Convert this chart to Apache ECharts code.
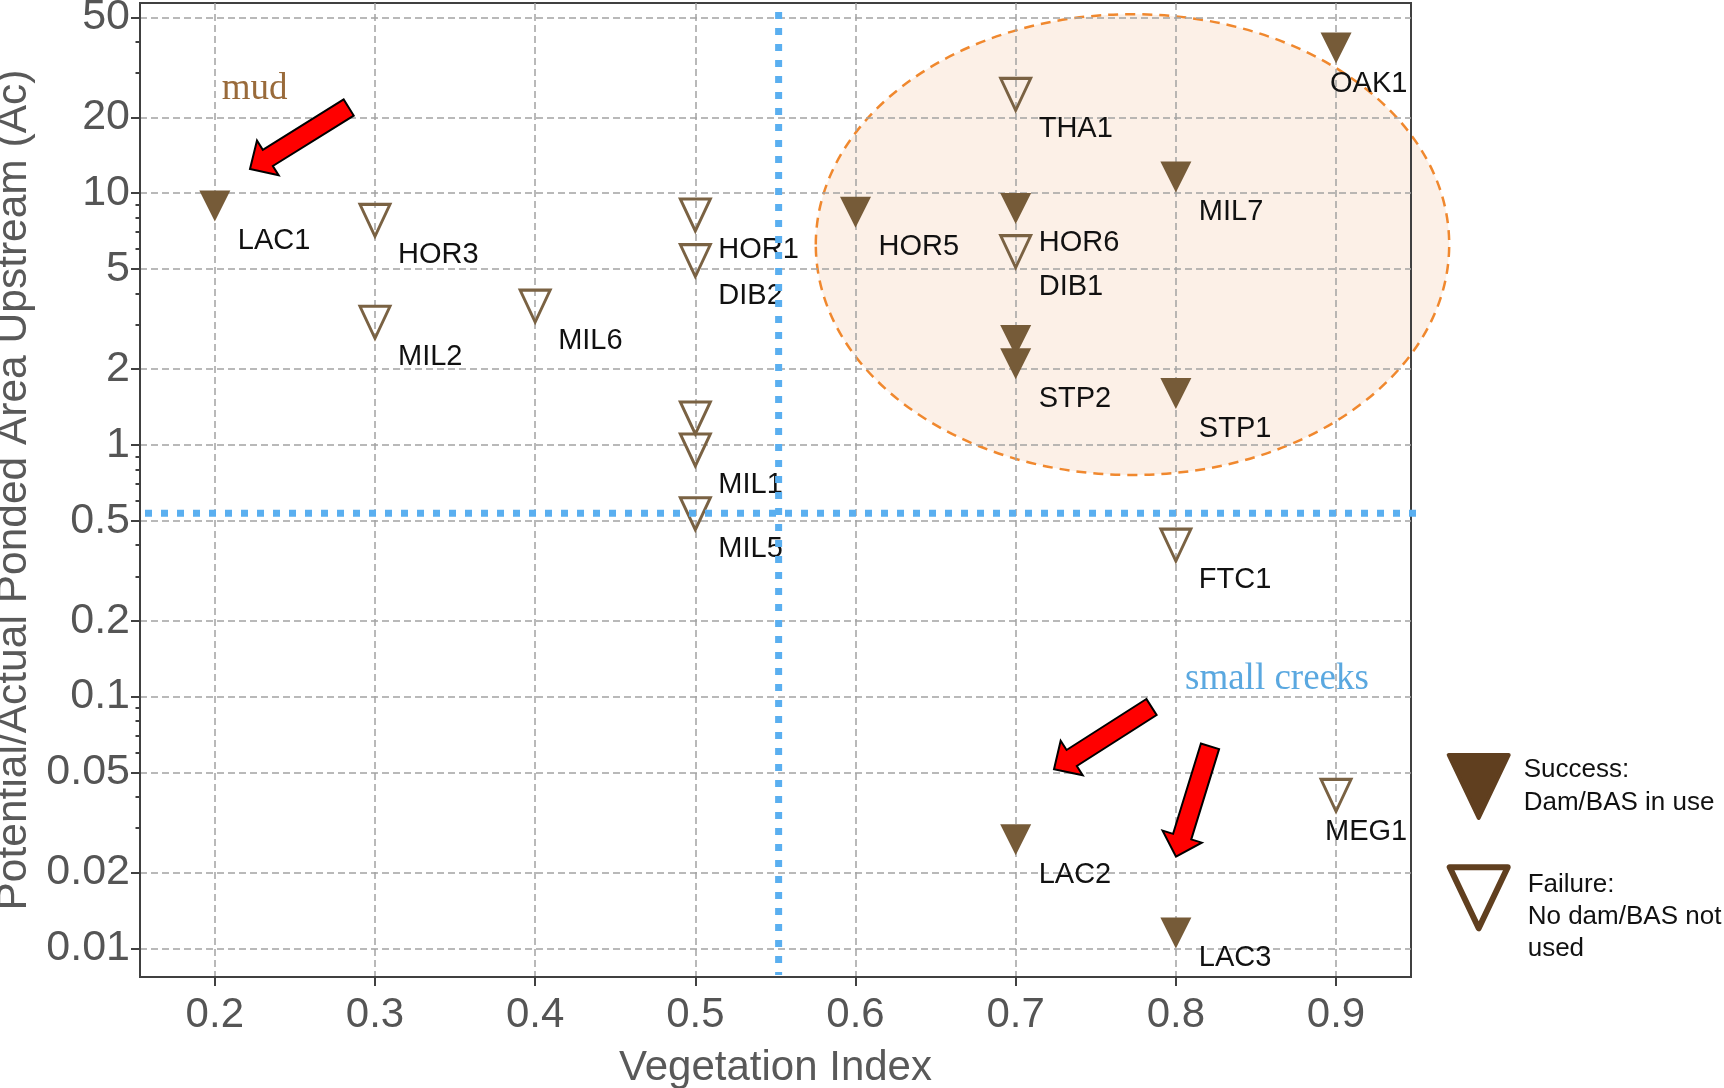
<!DOCTYPE html>
<html><head><meta charset="utf-8">
<script src="https://cdn.jsdelivr.net/npm/echarts@6/dist/echarts.min.js"></script>
<style>html,body{margin:0;padding:0;background:#fff}#c{width:1724px;height:1088px}</style>
</head><body><div id="c"></div>
<script>
// ---------- data ----------
const successNames = ['LAC1', 'HOR5', 'HOR6', '', 'STP2', 'MIL7', 'STP1', 'OAK1', 'LAC2', 'LAC3'];
const successX     = [0.2, 0.6, 0.7, 0.7, 0.7, 0.8, 0.8, 0.9, 0.7, 0.8];
const successY     = [8.9, 8.4, 8.7, 2.6, 2.1, 11.6, 1.6, 37.8, 0.027, 0.0115];

const failureNames = ['HOR3', 'MIL2', 'MIL6', 'HOR1', 'DIB2', '', 'MIL1', 'MIL5', 'THA1', 'DIB1', 'FTC1', 'MEG1'];
const failureX     = [0.3, 0.3, 0.4, 0.5, 0.5, 0.5, 0.5, 0.5, 0.7, 0.7, 0.8, 0.9];
const failureY     = [7.8, 3.07, 3.56, 8.2, 5.4, 1.28, 0.955, 0.533, 24.7, 5.86, 0.4, 0.0405];

const xTicks      = [0.2, 0.3, 0.4, 0.5, 0.6, 0.7, 0.8, 0.9];
const xTickLabels = ['0.2', '0.3', '0.4', '0.5', '0.6', '0.7', '0.8', '0.9'];
const yTicks      = [0.01, 0.02, 0.05, 0.1, 0.2, 0.5, 1, 2, 5, 10, 20, 50];
const yTickLabels = ['0.01', '0.02', '0.05', '0.1', '0.2', '0.5', '1', '2', '5', '10', '20', '50'];
const yMinorTicks = [0.03, 0.04, 0.06, 0.07, 0.08, 0.09, 0.3, 0.4, 0.6, 0.7, 0.8, 0.9, 3, 4, 6, 7, 8, 9, 30, 40];

const seriesNames = ['Success', 'Failure'];
const legendLines = [['Success:', 'Dam/BAS in use'], ['Failure:', 'No dam/BAS not', 'used']];
const thresholdX = 0.552;   // vegetation index threshold (dotted blue)
const thresholdY = 0.535;   // ponded area threshold (dotted blue)
const noteTexts = ['mud', 'small creeks'];

// ---------- styles ----------
const SANS = '"Liberation Sans", Arial, Helvetica, sans-serif';
const SERIF = '"Liberation Serif", "Times New Roman", serif';
const filledColor = '#765b38';
const openColor = '#7a6243';
const legendColor = '#603f1f';
const labelShift = { OAK1: [-6, 36], MEG1: [-11, 37], LAC3: [23, 25] };
const TRI = 'path://M0,0L10,0L5,10Z';

function closestLabel(v, ticks, labels) {
  let best = 0, bd = Infinity;
  ticks.forEach((t, i) => { const d = Math.abs(Math.log(v) - Math.log(t)); if (d < bd) { bd = d; best = i; } });
  return labels[best];
}
function closestLin(v, ticks, labels) {
  let best = 0, bd = Infinity;
  ticks.forEach((t, i) => { const d = Math.abs(v - t); if (d < bd) { bd = d; best = i; } });
  return labels[best];
}
function build(names, xs, ys) {
  return names.map((n, i) => ({ name: n, value: [xs[i], ys[i]], label: { offset: labelShift[n] || [23, 35] } }));
}
const pointLabel = {
  show: true, position: 'inside', align: 'left', verticalAlign: 'middle',
  formatter: p => p.name, fontSize: 29, color: '#111', fontFamily: SANS
};
const legendRich = {
  s: { height: 38.6, lineHeight: 38.6, fontSize: 10 },
  t: { fontSize: 26, lineHeight: 32, color: '#111', fontFamily: SANS },
  u: { fontSize: 26, lineHeight: 33, color: '#111', fontFamily: SANS }
};

const chart = echarts.init(document.getElementById('c'), null, { renderer: 'canvas' });

const option = {
  animation: false,
  backgroundColor: '#fff',
  grid: {
    left: 140, top: 3, width: 1271, height: 974,
    show: true, borderColor: '#404040', borderWidth: 2, backgroundColor: 'transparent',
    containLabel: false, outerBoundsMode: 'none'
  },
  xAxis: {
    type: 'value', min: 0.1533, max: 0.9468,
    name: 'Vegetation Index', nameLocation: 'middle', nameGap: 70,
    nameTextStyle: { fontSize: 42, color: '#595959', fontFamily: SANS },
    axisLine: { show: true, lineStyle: { color: '#404040', width: 2 } },
    axisTick: { show: true, length: 9, customValues: xTicks, lineStyle: { color: '#404040', width: 2 } },
    axisLabel: { customValues: xTicks, margin: 17, fontSize: 42, color: '#555', fontFamily: SANS,
      formatter: v => closestLin(v, xTicks, xTickLabels) },
    splitLine: { show: true, lineStyle: { color: '#a3a3a3', width: 1.5, type: [7, 4] } }
  },
  yAxis: [{
    type: 'log', logBase: 10, min: 0.00769, max: 57.0,
    name: 'Potential/Actual Ponded Area Upstream (Ac)', nameLocation: 'middle', nameGap: 95,
    nameTextStyle: { fontSize: 42.5, color: '#595959', fontFamily: SANS },
    axisLine: { show: true, lineStyle: { color: '#404040', width: 2 } },
    axisTick: { show: true, length: 9, customValues: yTicks, lineStyle: { color: '#404040', width: 2 } },
    axisLabel: { customValues: yTicks, margin: 10, fontSize: 43, color: '#555', fontFamily: SANS,
      formatter: v => closestLabel(v, yTicks, yTickLabels) },
    splitLine: { show: true, lineStyle: { color: '#a3a3a3', width: 1.5, type: [7, 4] } }
  }, {
    type: 'log', logBase: 10, min: 0.00769, max: 57.0, position: 'left', offset: 0,
    axisLine: { show: false },
    axisTick: { show: true, length: 4.5, customValues: yMinorTicks, lineStyle: { color: '#404040', width: 2 } },
    axisLabel: { show: false },
    splitLine: { show: false }
  }],
  legend: [{
    orient: 'vertical', left: 1446.7, top: 753, padding: 0, selectedMode: false,
    itemWidth: 60, itemHeight: 63,
    data: [{ name: seriesNames[0], icon: 'path://M0,0L60,0L30,63Z',
      itemStyle: { color: legendColor, borderColor: legendColor, borderWidth: 4, borderJoin: 'round' } }],
    formatter: () => legendLines[0].map(l => '{u|' + l + '}').join('\n'),
    textStyle: { fontSize: 26, color: '#111', fontFamily: SANS, padding: [0, 0, 0, 10], rich: legendRich }
  }, {
    orient: 'vertical', left: 1446.7, top: 830.5, padding: 0, selectedMode: false,
    itemWidth: 58, itemHeight: 61,
    data: [{ name: seriesNames[1], icon: 'path://M0,0L58,0L29,61Z',
      itemStyle: { color: 'rgba(0,0,0,0)', borderColor: legendColor, borderWidth: 6, borderJoin: 'round' } }],
    formatter: () => '{s| }\n' + legendLines[1].map(l => '{t|' + l + '}').join('\n'),
    textStyle: { fontSize: 26, color: '#111', fontFamily: SANS, padding: [0, 0, 0, 15], rich: legendRich }
  }],
  series: [{
    name: seriesNames[0], type: 'scatter', yAxisIndex: 0,
    symbol: TRI, symbolSize: [31, 31],
    itemStyle: { color: filledColor, opacity: 1 },
    label: pointLabel,
    emphasis: { disabled: true },
    data: build(successNames, successX, successY)
  }, {
    name: seriesNames[1], type: 'scatter', yAxisIndex: 0,
    symbol: TRI, symbolSize: [30, 32],
    itemStyle: { color: 'rgba(0,0,0,0)', borderColor: openColor, borderWidth: 3, opacity: 1 },
    label: pointLabel,
    emphasis: { disabled: true },
    data: build(failureNames, failureX, failureY)
  }]
};
chart.setOption(option);

// ---------- annotations ----------
function arrow(tail, tip, sw, hw, hl) {
  const dx = tip[0] - tail[0], dy = tip[1] - tail[1];
  const L = Math.hypot(dx, dy), ux = dx / L, uy = dy / L, nx = -uy, ny = ux;
  const bx = tip[0] - ux * hl, by = tip[1] - uy * hl;
  return [
    [tail[0] + nx * sw / 2, tail[1] + ny * sw / 2],
    [bx + nx * sw / 2, by + ny * sw / 2],
    [bx + nx * hw / 2, by + ny * hw / 2],
    tip,
    [bx - nx * hw / 2, by - ny * hw / 2],
    [bx - nx * sw / 2, by - ny * sw / 2],
    [tail[0] - nx * sw / 2, tail[1] - ny * sw / 2]
  ];
}
const px = chart.convertToPixel({ gridIndex: 0 }, [thresholdX, thresholdY]);
const arrowStyle = { fill: '#ff0000', stroke: '#000', lineWidth: 2, lineJoin: 'miter' };
const dotted = { stroke: '#5aaff0', lineWidth: 7, lineDash: [7, 9], lineCap: 'butt' };

chart.setOption({
  graphic: [
    { type: 'ellipse', z: -1, silent: true,
      shape: { cx: 1132.5, cy: 244.6, rx: 316.7, ry: 230.4 },
      style: { fill: '#fcf0e7', stroke: '#f0882e', lineWidth: 2.5, lineDash: [10, 7] } },
    { type: 'line', z: 100, silent: true, shape: { x1: px[0], y1: 12, x2: px[0], y2: 975 }, style: dotted },
    { type: 'line', z: 100, silent: true, shape: { x1: 145, y1: px[1], x2: 1418, y2: px[1] }, style: dotted },
    { type: 'polygon', z: 100, silent: true, shape: { points: arrow([348.7, 107.5], [250, 169], 19, 41, 21) }, style: arrowStyle },
    { type: 'polygon', z: 100, silent: true, shape: { points: arrow([1151.5, 707], [1054, 769.3], 19, 41, 21) }, style: arrowStyle },
    { type: 'polygon', z: 100, silent: true, shape: { points: arrow([1210, 746.3], [1176, 856.7], 19, 41, 21) }, style: arrowStyle },
    { type: 'text', z: 100, silent: true,
      style: { text: noteTexts[0], x: 221.7, y: 89, font: '37px ' + SERIF, fill: '#996a3a', verticalAlign: 'middle' } },
    { type: 'text', z: 100, silent: true,
      style: { text: noteTexts[1], x: 1185, y: 679, font: '37px ' + SERIF, fill: '#5aa8e0', verticalAlign: 'middle' } }
  ]
});
</script>
</body></html>
